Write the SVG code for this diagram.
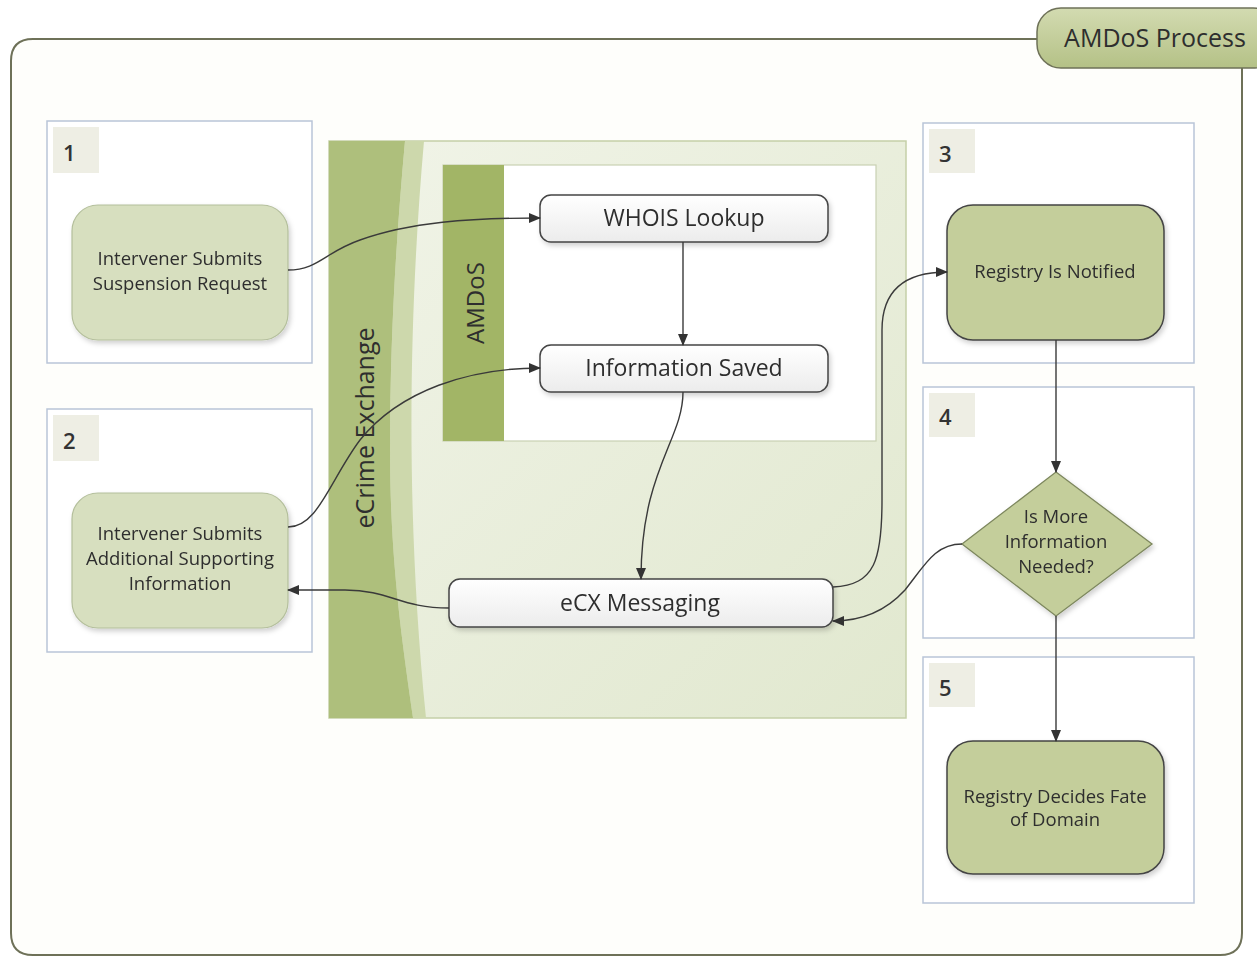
<svg xmlns="http://www.w3.org/2000/svg" width="1257" height="957" viewBox="0 0 1257 957">
<defs>
<style>
.t{font-family:"Open Sans","Noto Sans","DejaVu Sans",sans-serif;fill:#2e2e2e;}
.s{font-size:18.5px;}
.m{font-size:23px;}
.lane{fill:#fff;stroke:#b9c5d8;stroke-width:1.5;}
.num{fill:#eeeee4;}
.numt{font-family:"Open Sans","Noto Sans",sans-serif;font-size:22px;font-weight:600;fill:#333;}
.lg{fill:#d7dfbf;stroke:#b4bf9c;stroke-width:1.2;}
.dg{fill:#c4ce9b;stroke:#444;stroke-width:1.5;}
.wn{fill:url(#wg);stroke:#444;stroke-width:1.5;}
.c{fill:none;stroke:#3a3a3a;stroke-width:1.4;}
</style>
<linearGradient id="wg" x1="0" y1="0" x2="0" y2="1"><stop offset="0" stop-color="#ffffff"/><stop offset="1" stop-color="#ececec"/></linearGradient>
<linearGradient id="tabg" x1="0" y1="0" x2="0" y2="1"><stop offset="0" stop-color="#d3dbb1"/><stop offset="1" stop-color="#b4c186"/></linearGradient>
<linearGradient id="exg" x1="0" y1="0" x2="1" y2="1"><stop offset="0" stop-color="#f1f4e8"/><stop offset="1" stop-color="#e1e8cf"/></linearGradient>
<filter id="sh" x="-10%" y="-10%" width="130%" height="130%"><feDropShadow dx="2" dy="3" stdDeviation="2.5" flood-color="#000" flood-opacity="0.18"/></filter>
<marker id="ah" viewBox="0 0 12 10" refX="11" refY="5" markerWidth="12" markerHeight="10" markerUnits="userSpaceOnUse" orient="auto"><path d="M0,0 L12,5 L0,10 Z" fill="#333"/></marker>
</defs>
<rect width="1257" height="957" fill="#ffffff"/>

<g id="container">
<path d="M1037,39 L33,39 Q11,39 11,61 L11,933 Q11,955 33,955 L1220,955 Q1242,955 1242,933 L1242,68" fill="#fefefb" stroke="#6e7158" stroke-width="2"/>
<rect x="1037" y="8" width="240" height="60" rx="24" fill="url(#tabg)" stroke="#6e7158" stroke-width="1.5"/>
<text class="t" x="1155" y="47" font-size="25" text-anchor="middle">AMDoS Process</text>
</g>

<g id="lane1">
<rect class="lane" x="47" y="121" width="265" height="242"/>
<rect class="num" x="53" y="127" width="46" height="46"/>
<text class="numt" x="63" y="161">1</text>
</g>
<g id="lane2">
<rect class="lane" x="47" y="409" width="265" height="243"/>
<rect class="num" x="53" y="415" width="46" height="46"/>
<text class="numt" x="63" y="449">2</text>
</g>
<g id="lane3">
<rect class="lane" x="923" y="123" width="271" height="240"/>
<rect class="num" x="929" y="129" width="46" height="44"/>
<text class="numt" x="939" y="162">3</text>
</g>
<g id="lane4">
<rect class="lane" x="923" y="387" width="271" height="251"/>
<rect class="num" x="929" y="393" width="46" height="44"/>
<text class="numt" x="939" y="425">4</text>
</g>
<g id="lane5">
<rect class="lane" x="923" y="657" width="271" height="246"/>
<rect class="num" x="929" y="663" width="46" height="44"/>
<text class="numt" x="939" y="696">5</text>
</g>

<g id="ecrime-exchange">
<rect x="329" y="141" width="577" height="577" fill="url(#exg)" stroke="#c5cfa8" stroke-width="1.5"/>
<path d="M405,141 L424,141 C 410,300 404,500 426,718 L413,718 C 402,640 390,560 390,450 C 390,330 397,230 405,141 Z" fill="#cdd8ac"/>
<path d="M329,141 L405,141 C 397,230 390,330 390,450 C 390,560 402,640 413,718 L329,718 Z" fill="#aebf7c"/>
<text class="t" transform="translate(364,428) rotate(-90)" font-size="25" text-anchor="middle" dominant-baseline="central">eCrime Exchange</text>
</g>

<g id="amdos">
<rect x="443" y="165" width="433" height="276" fill="#ffffff" stroke="#c9d1b2" stroke-width="1.2"/>
<rect x="443" y="165" width="61" height="276" fill="#a2b566"/>
<text class="t" transform="translate(474,303) rotate(-90)" font-size="24" text-anchor="middle" dominant-baseline="central">AMDoS</text>
</g>

<g id="node1" filter="url(#sh)">
<rect class="lg" x="72" y="205" width="216" height="135" rx="26"/>
<text class="t s" x="180" y="265" text-anchor="middle">Intervener Submits</text>
<text class="t s" x="180" y="290" text-anchor="middle">Suspension Request</text>
</g>
<g id="node2" filter="url(#sh)">
<rect class="lg" x="72" y="493" width="216" height="135" rx="26"/>
<text class="t s" x="180" y="540" text-anchor="middle">Intervener Submits</text>
<text class="t s" x="180" y="565" text-anchor="middle">Additional Supporting</text>
<text class="t s" x="180" y="590" text-anchor="middle">Information</text>
</g>
<g id="whois" filter="url(#sh)">
<rect class="wn" x="540" y="195" width="288" height="47" rx="11"/>
<text class="t m" x="684" y="226" text-anchor="middle">WHOIS Lookup</text>
</g>
<g id="info-saved" filter="url(#sh)">
<rect class="wn" x="540" y="345" width="288" height="47" rx="11"/>
<text class="t m" x="684" y="376" text-anchor="middle">Information Saved</text>
</g>
<g id="ecx-messaging" filter="url(#sh)">
<rect class="wn" x="449" y="579" width="384" height="48" rx="11"/>
<text class="t m" x="640" y="611" text-anchor="middle">eCX Messaging</text>
</g>
<g id="registry-notified" filter="url(#sh)">
<rect class="dg" x="947" y="205" width="217" height="135" rx="26"/>
<text class="t s" x="1055" y="278" text-anchor="middle">Registry Is Notified</text>
</g>
<g id="decision" filter="url(#sh)">
<path d="M1056,472 L1152,544 L1056,616 L962,544 Z" fill="#c4ce9b" stroke="#7d875e" stroke-width="1.3"/>
<text class="t s" x="1056" y="523" text-anchor="middle">Is More</text>
<text class="t s" x="1056" y="548" text-anchor="middle">Information</text>
<text class="t s" x="1056" y="573" text-anchor="middle">Needed?</text>
</g>
<g id="registry-decides" filter="url(#sh)">
<rect class="dg" x="947" y="741" width="217" height="133" rx="26"/>
<text class="t s" x="1055" y="803" text-anchor="middle">Registry Decides Fate</text>
<text class="t s" x="1055" y="826" text-anchor="middle">of Domain</text>
</g>

<g id="connectors">
<path class="c" d="M288,270 C 318,270 325,252 360,240 C 410,222 470,218 540,218" marker-end="url(#ah)"/>
<path class="c" d="M288,527 C 318,527 330,480 360,440 C 400,390 470,368 540,368" marker-end="url(#ah)"/>
<path class="c" d="M683,392 C 683,440 641,470 641,579" marker-end="url(#ah)"/>
<path class="c" d="M683,242 L683,345" marker-end="url(#ah)"/>
<path class="c" d="M449,608 C 400,608 390,590 345,590 L288,590" marker-end="url(#ah)"/>
<path class="c" d="M833,587 C 875,585 882,560 882,500 L882,330 C 882,290 905,272 947,272" marker-end="url(#ah)"/>
<path class="c" d="M962,544 C 935,544 925,565 905,590 C 885,612 860,621 833,621" marker-end="url(#ah)"/>
<path class="c" d="M1056,340 L1056,472" marker-end="url(#ah)"/>
<path class="c" d="M1056,616 L1056,741" marker-end="url(#ah)"/>
</g>
</svg>
